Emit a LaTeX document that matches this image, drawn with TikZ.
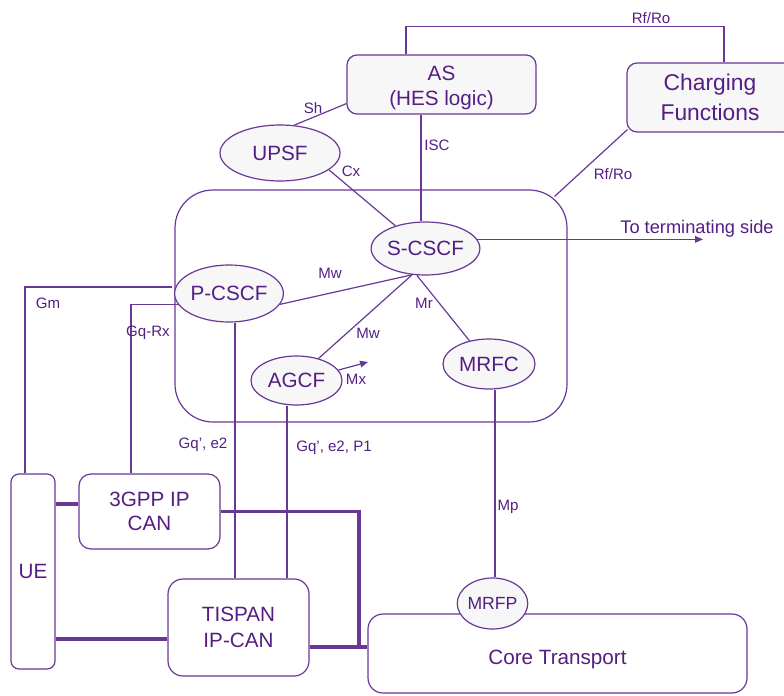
\documentclass[tikz,border=0pt]{standalone}
\usepackage{fontspec}
\setmainfont{Liberation Sans}
\usetikzlibrary{arrows.meta,calc,shapes.geometric}
\definecolor{ln}{RGB}{104,56,150}
\definecolor{tx}{RGB}{84,30,132}
\definecolor{fl}{RGB}{247,247,247}
\begin{document}
\begin{tikzpicture}[x=0.75pt,y=-0.75pt,
 every node/.style={text=tx},
 box/.style={draw=ln,line width=0.9pt,rounded corners=7.5pt,inner sep=0pt,align=center,font=\fontsize{15.5}{18.5}\selectfont},
 ell/.style={ellipse,draw=ln,line width=0.9pt,fill=fl,inner sep=0pt,font=\fontsize{15.5}{18}\selectfont},
 conn/.style={draw=ln,line width=0.9pt},
 thickconn/.style={draw=ln,line width=2.3pt},
 tip/.style={-{Triangle[length=6pt,width=5pt]}},
 lbl/.style={font=\fontsize{11.3}{13}\selectfont,inner sep=0pt},
 big/.style={font=\fontsize{15.5}{18.5}\selectfont,inner sep=0pt,align=center}]
\useasboundingbox (0,0) rectangle (784,695);

% big IMS box
\node[draw=ln,line width=0.9pt,rounded corners=28.5pt,minimum width=294pt,minimum height=174pt,inner sep=0pt] (ims) at (371,306) {};

% boxes
\node[box,fill=fl,minimum width=141.75pt,minimum height=44.25pt] (as) at (441.5,84.5) {};
\node[big] (astext) at (441.5,88) {AS\\(HES logic)};
\node[box,fill=fl,minimum width=124.5pt,minimum height=51.75pt,font=\fontsize{17.1}{22.5}\selectfont] (chg) at (710,97.5) {Charging\\Functions};
\node[box,fill=white,rounded corners=6pt,minimum width=33pt,minimum height=146.25pt] (ue) at (33,571.5) {UE};
\node[box,fill=white,rounded corners=9pt,minimum width=105.75pt,minimum height=56.25pt] (tgpp) at (149.5,511.5) {3GPP IP\\CAN};
\node[box,fill=white,rounded corners=11.25pt,minimum width=105.75pt,minimum height=72.75pt,font=\fontsize{15.5}{19.5}\selectfont] (tispan) at (238.5,627.5) {TISPAN\\IP-CAN};
\node[box,fill=white,rounded corners=11.25pt,minimum width=284.25pt,minimum height=59.25pt] (core) at (557.5,653.5) {};
\node[big] (coretext) at (557.5,659) {Core Transport};

% ellipses
\node[ell,minimum width=90pt,minimum height=42pt] (upsf) at (280,153) {UPSF};
\node[ell,minimum width=74.25pt,minimum height=39.75pt] (scscf) at (425.5,248.5) {S-CSCF};
\node[ell,minimum width=69pt,minimum height=42.75pt] (pcscf) at (229,293.5) {P-CSCF};
\node[ell,minimum width=68.25pt,minimum height=36.75pt] (agcf) at (296.5,380.5) {AGCF};
\node[ell,minimum width=69pt,minimum height=37.5pt] (mrfc) at (489,364) {MRFC};
\node[ell,minimum width=48.75pt,minimum height=38.25pt,font=\fontsize{13.2}{16}\selectfont] (mrfp) at (492.5,603.5) {MRFP};

\coordinate (term) at (703,242);
\coordinate (mxend) at (368,362);
\coordinate (jn) at (359,647);

% connectors
\draw[conn] ($(as.north)+(-35.5,0)$) -- ++(0,-28) -| ($(chg.north)+(14,0)$);
\draw[conn] (upsf.63) -- ($(as.south west)+(0,-11)$);
\draw[conn] ($(as.south)+(-20.5,0)$) coordinate (isctop) -- (isctop |- scscf.north);
\draw[conn] (upsf.-19) -- (scscf.143);
\draw[conn] ($(chg.south west)+(1,-3)$) -- ($(ims.north east)+(-13,7)$);
\draw[conn,tip] (scscf.10) -- (scscf.10 -| term);
\draw[conn] (pcscf.-12) -- (scscf.243);
\draw[conn] (agcf.45) -- (scscf.243);
\draw[conn] (scscf.252) -- (mrfc.130);
\draw[conn,tip] (agcf.14) -- (mxend);
\draw[conn] ($(ue.north)+(-8,0)$) |- ($(ims.west)+(-2,-19)$);
\draw[conn] (pcscf.192) -| ($(tgpp.north)+(-18.5,0)$);
\draw[conn] ($(pcscf.south)+(6,0)$) coordinate (g1) -- (g1 |- tispan.north);
\draw[conn] ($(agcf.south)+(-9.5,0)$) coordinate (g2) -- (g2 |- tispan.north);
\draw[conn] ($(mrfc.south)+(6,0)$) coordinate (g3) -- (g3 |- mrfp.north);

\draw[thickconn] ($(tgpp.west)+(0,-7.5)$) coordinate (t1) -- (ue.east |- t1);
\draw[thickconn] ($(tispan.west)+(0,11.5)$) coordinate (t2) -- (ue.east |- t2);
\draw[thickconn] (tgpp.east) -| (jn);
\draw[thickconn] (tispan.east |- jn) -- (core.west |- jn);

% labels
\node[lbl] (lrf1) at (651,18) {Rf/Ro};
\node[lbl] (lsh) at (313,108) {Sh};
\node[lbl] (lisc) at (437,145) {ISC};
\node[lbl] (lcx) at (351,171) {Cx};
\node[lbl] (lrf2) at (613,174) {Rf/Ro};
\node[lbl,font=\fontsize{13.7}{16}\selectfont] (lterm) at (697,229) {To terminating side};
\node[lbl] (lmw1) at (330,273) {Mw};
\node[lbl] (lmw2) at (368,333) {Mw};
\node[lbl] (lmr) at (424,303) {Mr};
\node[lbl] (lmx) at (356,379) {Mx};
\node[lbl] (lgm) at (48,303) {Gm};
\node[lbl] (lgq) at (148,333) {Gq-Rx};
\node[lbl] (lge) at (203,445) {Gq', e2};
\node[lbl] (lgp) at (334,448) {Gq', e2, P1};
\node[lbl] (lmp) at (508,507) {Mp};
\end{tikzpicture}
\end{document}
